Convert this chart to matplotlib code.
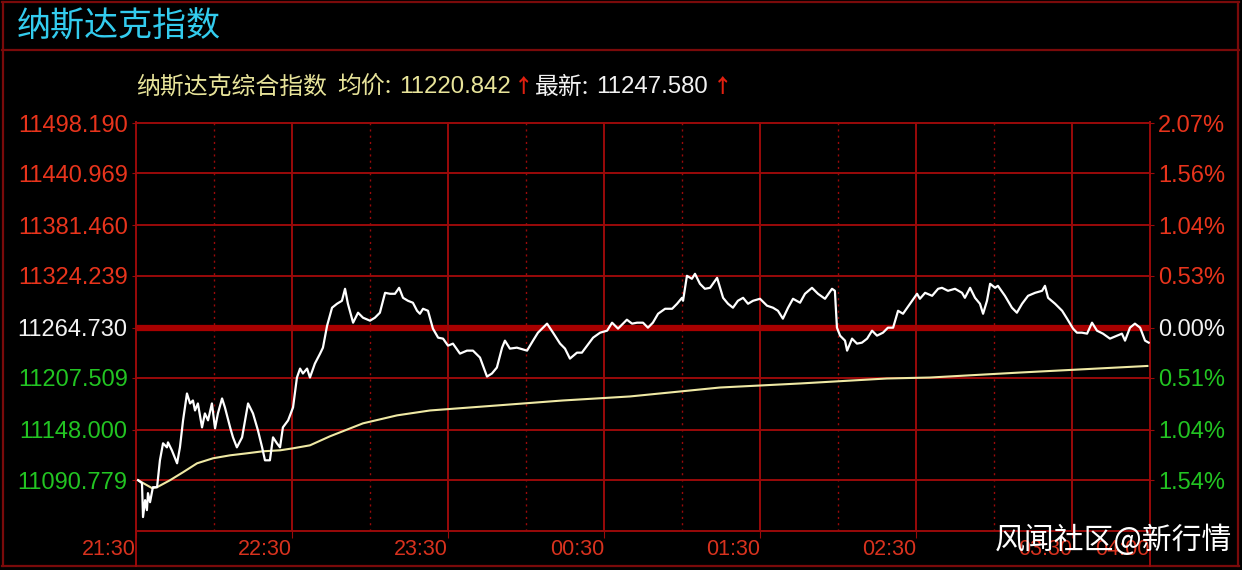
import matplotlib.pyplot as plt
from matplotlib.lines import Line2D

# minutes after 21:30 and index level of the Nasdaq line
price_min = [0.8, 2.3, 2.7, 3.5, 4.2, 4.6, 5.4, 6.5, 8.1, 9.2,
             10.4, 11.9, 12.3, 13.8, 15.8, 16.9, 18.1, 19.6, 20.8, 21.9,
             22.7, 23.8, 25.4, 26.5, 27.7, 29.2, 30.4, 31.5, 33.1, 34.2,
             36.2, 37.3, 38.8, 40.8, 43.1, 45.0, 46.9, 48.5, 49.6, 51.5,
             52.7, 54.2, 55.4, 56.5, 58.5, 60.4, 61.9, 63.1, 64.2, 65.8,
             66.9, 68.8, 70.8, 71.9, 73.5, 75.4, 77.3, 79.2, 80.4, 81.5,
             83.5, 85.4, 87.3, 90.0, 91.9, 93.8, 95.8, 97.7, 99.6, 101.2,
             102.7, 104.6, 106.5, 108.1, 109.2, 110.4, 112.3, 114.2, 116.2, 118.1,
             120.0, 121.9, 124.6, 127.3, 129.6, 132.3, 135.0, 136.9, 138.8, 140.8,
             141.9, 143.8, 146.5, 150.4, 152.7, 154.6, 158.1, 160.4, 163.1, 165.0,
             166.9, 169.6, 171.5, 173.5, 175.8, 178.5, 181.2, 183.1, 185.4, 188.8,
             190.8, 192.7, 195.0, 196.9, 198.8, 200.8, 203.5, 206.2, 208.1, 210.0,
             210.4, 211.9, 213.8, 215.0, 216.9, 218.8, 220.8, 223.5, 225.8, 227.7,
             229.6, 231.5, 233.5, 235.4, 237.3, 240.0, 242.7, 245.0, 246.9, 248.8,
             250.8, 252.7, 255.4, 257.3, 260.0, 262.3, 265.0, 267.7, 268.8, 269.6,
             270.8, 272.7, 273.5, 275.4, 277.3, 279.2, 281.2, 283.1, 285.0, 287.3,
             289.2, 291.2, 293.1, 295.0, 297.7, 300.4, 301.5, 303.5, 306.2, 308.5,
             310.0, 312.3, 315.0, 317.7, 318.8, 320.8, 322.7, 324.6, 325.8, 327.3,
             328.5, 330.4, 331.5, 334.2, 336.9, 338.8, 340.8, 343.1, 345.8, 348.5,
             349.6, 350.8, 353.5, 356.2, 358.1, 360.4, 361.9, 363.8, 365.8, 367.7,
             369.6, 371.9, 374.6, 377.3, 379.2, 380.4, 382.3, 384.2, 386.2, 388.1,
             389.5]
price_val = [11090.6, 11087.2, 11048.5, 11067.8, 11056.4, 11075.8, 11065.5, 11082.6, 11082.6, 11113.3,
             11132.7, 11128.1, 11133.8, 11124.7, 11109.9, 11128.1, 11158.9, 11189.6, 11178.2, 11181.6,
             11170.2, 11178.2, 11150.9, 11166.8, 11158.9, 11178.2, 11149.8, 11166.8, 11183.9, 11173.7,
             11150.9, 11139.5, 11128.1, 11139.5, 11178.2, 11166.8, 11147.5, 11128.1, 11113.3, 11113.3,
             11139.5, 11132.7, 11128.1, 11150.9, 11158.9, 11173.7, 11207.8, 11218.0, 11212.4, 11218.0,
             11207.8, 11223.7, 11235.1, 11241.9, 11267.0, 11287.5, 11292.0, 11295.4, 11309.1, 11292.0,
             11270.4, 11281.8, 11276.1, 11272.7, 11276.1, 11281.8, 11304.5, 11303.4, 11303.4, 11310.2,
             11298.8, 11295.4, 11293.2, 11284.0, 11280.6, 11286.3, 11284.0, 11263.6, 11253.3, 11252.2,
             11244.2, 11246.5, 11235.1, 11238.5, 11238.5, 11230.6, 11208.9, 11212.4, 11219.2, 11241.9,
             11249.9, 11240.8, 11241.9, 11238.5, 11249.9, 11259.0, 11269.3, 11259.0, 11246.5, 11240.8,
             11229.4, 11236.2, 11236.2, 11244.2, 11253.3, 11259.0, 11261.3, 11270.4, 11263.6, 11273.8,
             11269.3, 11270.4, 11270.4, 11264.7, 11270.4, 11280.6, 11286.3, 11286.3, 11292.0, 11298.8,
             11295.4, 11323.9, 11320.5, 11326.2, 11314.8, 11309.1, 11310.2, 11321.6, 11298.8, 11292.0,
             11287.5, 11295.4, 11298.8, 11292.0, 11295.4, 11297.7, 11289.8, 11287.5, 11284.0, 11275.0,
             11287.5, 11297.7, 11293.2, 11303.4, 11310.2, 11303.4, 11297.7, 11309.1, 11306.8, 11264.7,
             11255.6, 11249.9, 11238.5, 11252.2, 11246.5, 11247.6, 11252.2, 11261.3, 11255.6, 11259.0,
             11264.7, 11264.7, 11284.0, 11280.6, 11292.0, 11303.4, 11297.7, 11304.5, 11301.1, 11309.1,
             11310.2, 11306.8, 11309.1, 11304.5, 11298.8, 11310.2, 11298.8, 11292.0, 11280.6, 11295.4,
             11314.8, 11310.2, 11312.5, 11301.1, 11287.5, 11281.8, 11292.0, 11301.1, 11304.5, 11306.8,
             11312.5, 11298.8, 11292.0, 11284.0, 11275.0, 11263.6, 11259.0, 11259.0, 11257.9, 11270.4,
             11261.3, 11257.9, 11252.2, 11255.6, 11257.9, 11249.9, 11264.7, 11269.3, 11264.7, 11249.9,
             11247.6]

# average price line
avg_min = [0.8, 6.2, 8.1, 13.1, 18.1, 23.5, 29.6, 36.2, 42.7, 48.8, 55.4, 60.4, 66.9,
           74.6, 87.3, 100.4, 113.1, 138.8, 164.2, 190.0, 224.6, 255.4, 288.8, 305.4,
           340.0, 389.0]
avg_val = [11090.6, 11081.5, 11082.6, 11090.6, 11099.7, 11109.9, 11115.6, 11119.0,
           11121.3, 11123.6, 11124.7, 11127.0, 11130.4, 11140.7, 11155.5, 11164.6,
           11170.2, 11175.9, 11181.6, 11186.2, 11196.4, 11201.0, 11206.7, 11207.8,
           11213.5, 11221.0]

prev_close = 11264.730
level_ticks = [11498.190, 11440.969, 11381.460, 11324.239, 11264.730, 11207.509, 11148.000, 11090.779]
level_labels = ["11498.190", "11440.969", "11381.460", "11324.239", "11264.730", "11207.509", "11148.000", "11090.779"]
pct_labels = ["2.07%", "1.56%", "1.04%", "0.53%", "0.00%", "0.51%", "1.04%", "1.54%"]
label_colors = ["#e8341c"] * 4 + ["#f2f2f2"] + ["#22c422"] * 3

hour_ticks = [0, 60, 120, 180, 240, 300, 360, 390]
hour_labels = ["21:30", "22:30", "23:30", "00:30", "01:30", "02:30", "03:30", "04:00"]
half_hours = [30, 90, 150, 210, 270, 330]

W, H = 1242, 570
grid_c = "#9a0a0a"
frame_c = "#7a0a0a"
num_font = ["Liberation Sans", "DejaVu Sans"]
cjk_font = ["Noto Sans CJK SC", "DejaVu Sans"]


def fx(px):
    return px / W


def fy(py):
    return 1 - py / H


fig = plt.figure(figsize=(W / 100, H / 100), dpi=100, facecolor="black")
ax = fig.add_axes([fx(136), fy(531), fx(1150) - fx(136), fy(122) - fy(531)])
ax.set_facecolor("black")
ax.set_xlim(0, 390)
ax.set_ylim(11032.6, 11499.5)

# grid
for v in level_ticks:
    if v != prev_close:
        ax.axhline(v, color=grid_c, lw=1.4, zorder=1)
ax.axhline(prev_close, color="#a80000", lw=4.5, zorder=1)
for m in hour_ticks[1:-1]:
    ax.axvline(m, color=grid_c, lw=1.4, zorder=1)
for m in half_hours:
    ax.axvline(m, color=grid_c, lw=1.0, ls=(0, (1.5, 3)), zorder=1)

ax.plot(avg_min, avg_val, color="#efe9a4", lw=1.5, zorder=3)
ax.plot(price_min, price_val, color="white", lw=1.6, zorder=4)

for s in ax.spines.values():
    s.set_color(grid_c)
    s.set_linewidth(1.4)
ax.spines["top"].set_visible(False)

ax.set_yticks(level_ticks)
ax.set_yticklabels(level_labels, fontsize=17, family=num_font)
ax.tick_params(axis="y", length=3, color=grid_c, pad=3)
for lab, c in zip(ax.get_yticklabels(), label_colors):
    lab.set_color(c)

ax.set_xticks(hour_ticks)
ax.set_xticklabels(hour_labels, fontsize=15.5, family=num_font, color="#d8321e", ha="right")
ax.tick_params(axis="x", length=5, color=grid_c, pad=1)

ax2 = ax.twinx()
ax2.set_ylim(ax.get_ylim())
ax2.set_yticks(level_ticks)
ax2.set_yticklabels(pct_labels, fontsize=17, family=num_font)
ax2.tick_params(axis="y", length=3, color=grid_c, pad=3)
for lab, c in zip(ax2.get_yticklabels(), label_colors):
    lab.set_color(c)
for s in ax2.spines.values():
    s.set_visible(False)

# frame around the panel
def fline(x0, y0, x1, y1, c=frame_c, lw=1.6):
    fig.add_artist(Line2D([fx(x0), fx(x1)], [fy(y0), fy(y1)], color=c, lw=lw))

fline(2, 2, 1239, 2)
fline(2, 50, 1239, 50)
fline(2, 566, 1239, 566)
fline(3, 2, 3, 566)
fline(1238, 2, 1238, 566)
fline(136, 531, 136, 566, c=grid_c, lw=1.4)
fline(1150, 531, 1150, 566, c=grid_c, lw=1.4)

fig.text(fx(17), fy(27), "纳斯达克指数", color="#33ccee", fontsize=24.5,
         family=cjk_font, va="center", weight="medium")

# header line
yh = fy(87)
fig.text(fx(136), yh, "纳斯达克综合指数", color="#e8e49a", fontsize=17.2, family=cjk_font, va="center")
fig.text(fx(337), yh, "均价:", color="#e8e49a", fontsize=17.2, family=cjk_font, va="center")
fig.text(fx(399), yh, "11220.842", color="#e8e49a", fontsize=17.3, family=num_font, va="center")
fig.text(fx(514), yh, "↑", color="#e02010", fontsize=14, family=cjk_font, va="center", weight="bold")
fig.text(fx(535), yh, "最新:", color="#f2f2f2", fontsize=17.2, family=cjk_font, va="center")
fig.text(fx(596), yh, "11247.580", color="#f2f2f2", fontsize=17.3, family=num_font, va="center")
fig.text(fx(713), yh, "↑", color="#e02010", fontsize=14, family=cjk_font, va="center", weight="bold")

fig.text(fx(1232), fy(540), "风闻社区@新行情", color="white", fontsize=21.5,
         family=cjk_font, va="center", ha="right", zorder=10)

fig.savefig("out.png", dpi=100, facecolor="black")
